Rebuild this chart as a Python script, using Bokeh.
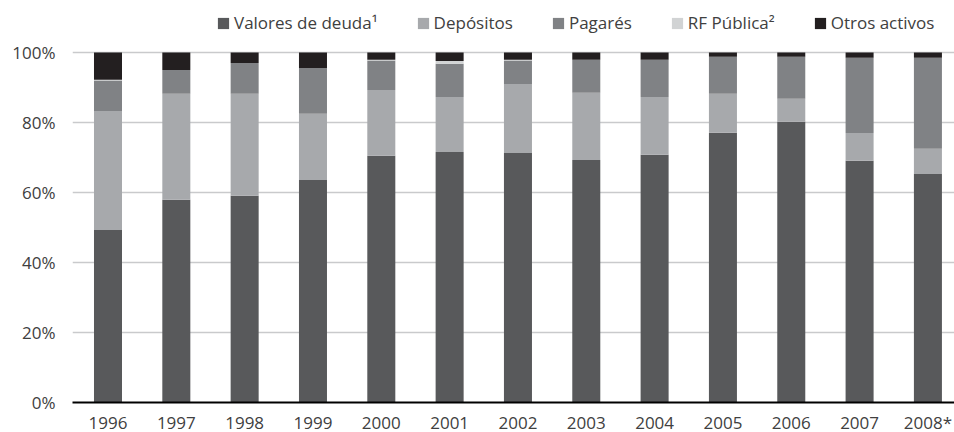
from bokeh.plotting import figure
from bokeh.models import ColumnDataSource, FixedTicker, PrintfTickFormatter, Legend, LegendItem
from bokeh.embed import file_html
from bokeh.resources import INLINE

years = ["1996", "1997", "1998", "1999", "2000", "2001", "2002",
         "2003", "2004", "2005", "2006", "2007", "2008*"]
valores = [49.3, 57.9, 59.1, 63.6, 70.5, 71.6, 71.3, 69.3, 70.8, 77.1, 80.2, 69.1, 65.3]
depositos = [34.0, 30.3, 29.1, 18.9, 18.8, 15.7, 19.7, 19.2, 16.5, 11.1, 6.6, 7.9, 7.2]
pagares = [8.7, 6.8, 8.8, 13.1, 8.4, 9.5, 6.7, 9.4, 10.6, 10.6, 12.0, 21.5, 26.0]
rf_publica = [0.2, 0.0, 0.0, 0.0, 0.2, 0.8, 0.2, 0.0, 0.0, 0.0, 0.0, 0.0, 0.0]
otros = [7.8, 5.0, 3.0, 4.4, 2.1, 2.4, 2.1, 2.1, 2.1, 1.2, 1.2, 1.5, 1.5]

series_keys = ["valores", "depositos", "pagares", "rf", "otros"]
series_labels = ["Valores de deuda\u00b9", "Dep\u00f3sitos", "Pagar\u00e9s", "RF P\u00fablica\u00b2", "Otros activos"]
colors = ["#58595b", "#a7a9ac", "#808285", "#d1d3d4", "#231f20"]
y_ticks = [0, 20, 40, 60, 80, 100]

FONT = "Open Sans"
TXT = "#404040"

src = ColumnDataSource(dict(
    x=list(range(len(years))),
    valores=valores, depositos=depositos, pagares=pagares, rf=rf_publica, otros=otros,
))

# frame spans the full top of the page so the legend (inside the frame) is not clipped
p = figure(frame_width=882, frame_height=402, output_backend="svg", toolbar_location=None,
           x_range=(-0.5195, 12.389), y_range=(0, 114.86),
           min_border_left=72, min_border_right=0, min_border_top=0, min_border_bottom=0)
p.outline_line_color = None
p.background_fill_color = "white"
p.border_fill_color = "white"

renderers = p.vbar_stack(series_keys, x="x", width=0.41, color=colors, line_color=None, source=src)

# axes
p.xaxis.ticker = FixedTicker(ticks=list(range(len(years))))
p.xaxis.major_label_overrides = {i: y for i, y in enumerate(years)}
p.xaxis.axis_line_color = "black"
p.xaxis.axis_line_width = 2
p.xaxis.major_tick_line_color = None
p.xaxis.minor_tick_line_color = None
p.xaxis.major_tick_out = 0
p.xaxis.major_tick_in = 0
p.xaxis.major_label_standoff = 8
p.xaxis.major_label_text_font = FONT
p.xaxis.major_label_text_font_size = "17px"
p.xaxis.major_label_text_color = TXT

p.yaxis.ticker = FixedTicker(ticks=y_ticks)
p.yaxis.formatter = PrintfTickFormatter(format="%d%%")
p.yaxis.axis_line_color = None
p.yaxis.major_tick_line_color = None
p.yaxis.minor_tick_line_color = None
p.yaxis.major_tick_out = 0
p.yaxis.major_tick_in = 0
p.yaxis.major_label_standoff = 17
p.yaxis.major_label_text_font = FONT
p.yaxis.major_label_text_font_size = "17px"
p.yaxis.major_label_text_color = TXT

p.xgrid.grid_line_color = None
p.ygrid.ticker = FixedTicker(ticks=y_ticks)
p.ygrid.grid_line_color = "#c9cacc"
p.ygrid.grid_line_width = 1.5

items = [LegendItem(label=lab, renderers=[r]) for lab, r in zip(series_labels, renderers)]
legend = Legend(items=items, orientation="horizontal", location=(144, 368),
                padding=0, margin=0, spacing=38, label_standoff=4,
                glyph_width=14, glyph_height=14,
                label_text_font=FONT, label_text_font_size="17px", label_text_color=TXT,
                border_line_color=None, background_fill_alpha=0)
p.add_layout(legend, "center")

open("out.html", "w").write(file_html(p, INLINE))
